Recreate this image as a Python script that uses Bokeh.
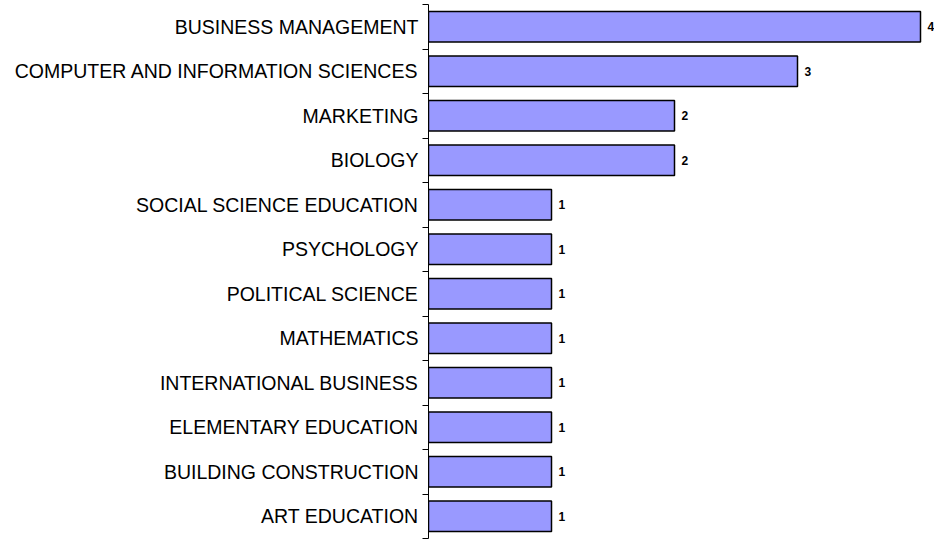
from bokeh.plotting import figure
from bokeh.models import ColumnDataSource, Range1d, FixedTicker, LabelSet
from bokeh.core.properties import value
from bokeh.embed import file_html
from bokeh.resources import INLINE

majors = ["BUSINESS MANAGEMENT", "COMPUTER AND INFORMATION SCIENCES", "MARKETING",
          "BIOLOGY", "SOCIAL SCIENCE EDUCATION", "PSYCHOLOGY", "POLITICAL SCIENCE",
          "MATHEMATICS", "INTERNATIONAL BUSINESS", "ELEMENTARY EDUCATION",
          "BUILDING CONSTRUCTION", "ART EDUCATION"]
counts = [4, 3, 2, 2, 1, 1, 1, 1, 1, 1, 1, 1]

n = len(majors)
ypos = [n - i for i in range(n)]
src = ColumnDataSource(dict(y=ypos, v=counts, lab=[str(c) for c in counts]))

W, LB = 934, 428
p = figure(width=W, height=540, output_backend="svg", toolbar_location=None,
           x_range=Range1d(0, (W - LB) / 123), y_range=Range1d(0.5, n + 0.5),
           min_border_left=LB, min_border_right=0, min_border_top=4, min_border_bottom=2)
p.outline_line_color = None
p.grid.visible = False
p.xaxis.visible = False

p.hbar(y="y", right="v", left=0, height=0.69, source=src,
       fill_color="#9999FF", line_color="black", line_width=1.5)
labels = LabelSet(x="v", y="y", text="lab", source=src, x_offset=7, text_baseline="middle",
                  text_font=value("Liberation Sans"), text_font_style="bold",
                  text_font_size="12px", text_color="black")
p.add_layout(labels)

ax = p.yaxis[0]
ax.ticker = FixedTicker(ticks=ypos, minor_ticks=[k + 0.5 for k in range(n + 1)])
ax.major_label_overrides = {y: m for y, m in zip(ypos, majors)}
ax.major_label_text_font = "Liberation Sans"
ax.major_label_text_font_size = "19.5px"
ax.major_label_text_color = "black"
ax.major_tick_line_color = None
ax.major_tick_out = 0
ax.major_tick_in = 0
ax.minor_tick_out = 6
ax.minor_tick_in = 0
ax.minor_tick_line_color = "black"
ax.axis_line_color = "black"
ax.major_label_standoff = 4

open("out.html", "w").write(file_html(p, INLINE))
